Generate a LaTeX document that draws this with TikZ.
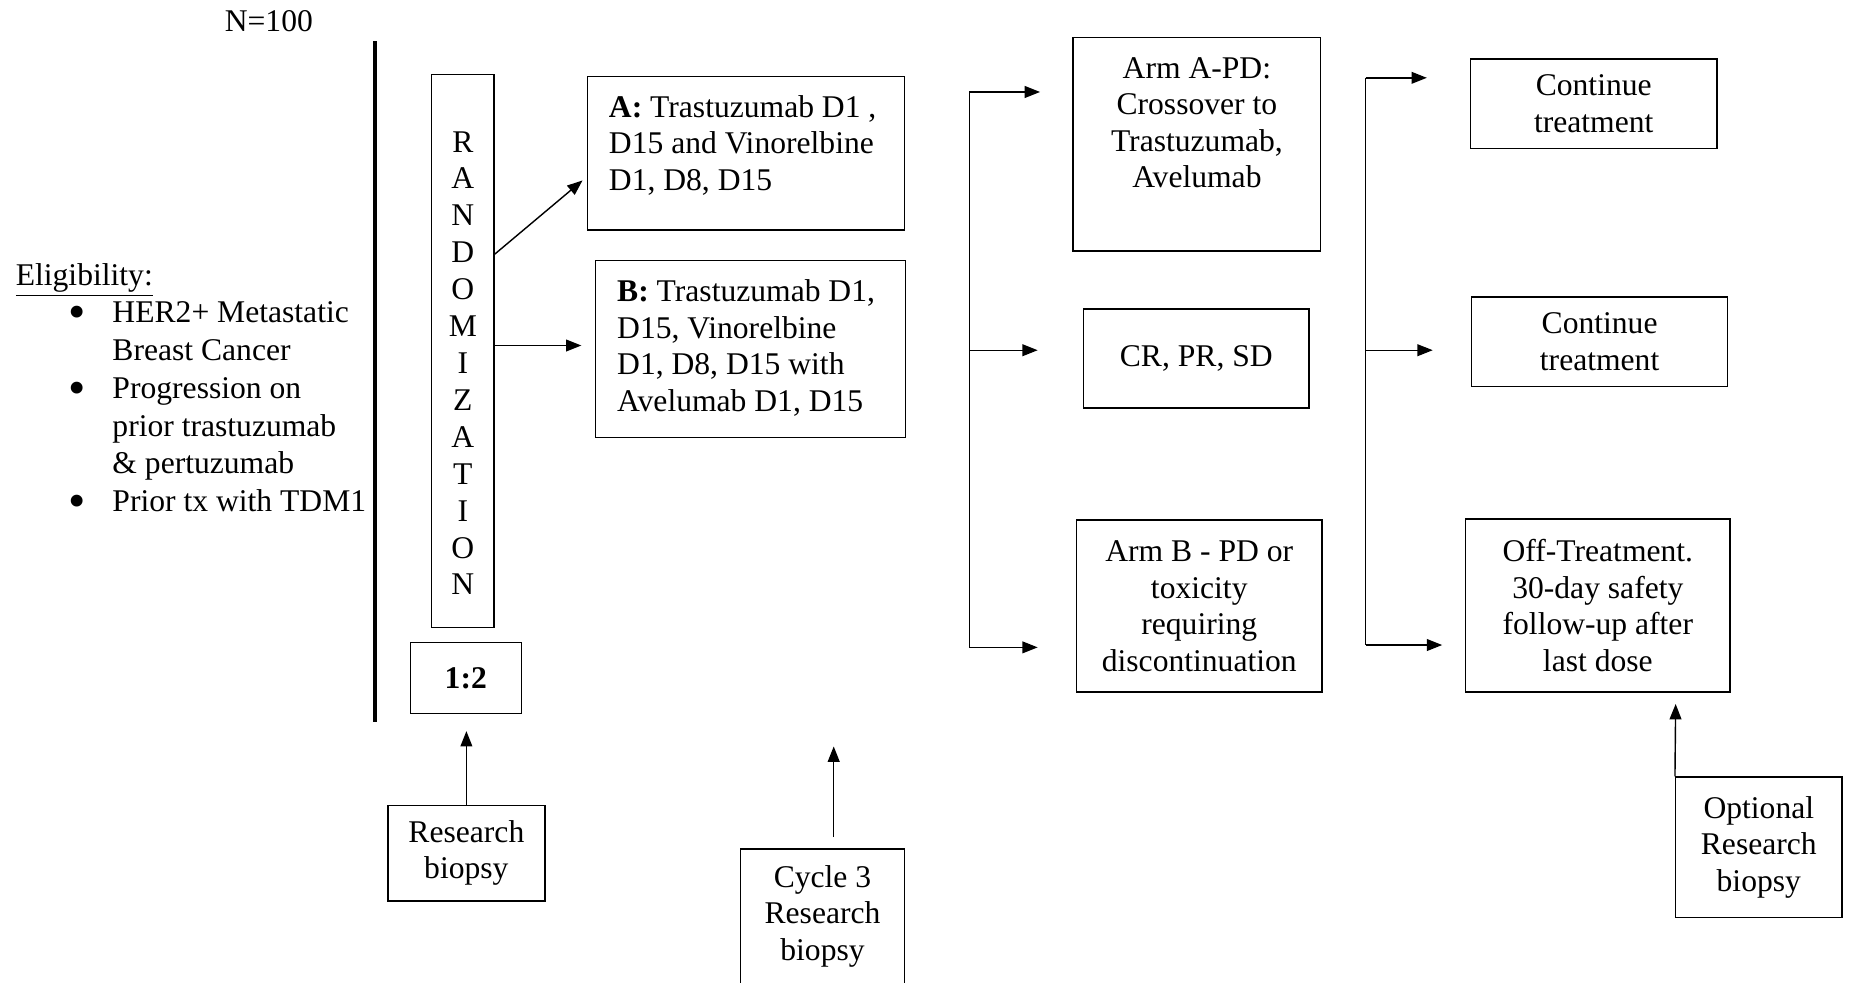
\documentclass[tikz,border=0pt]{standalone}
\usepackage{fontspec}
\setmainfont{Liberation Serif}
\usetikzlibrary{arrows.meta}
\newcommand{\bigbul}{\makebox[18.5pt][l]{\raisebox{-2.4pt}{\fontsize{21pt}{0pt}\selectfont\textbullet}}}
\begin{document}
\begin{tikzpicture}[x=0.5pt,y=-0.5pt,
  box/.style={draw, line width=0.6pt, inner sep=0pt, align=center,
    font=\fontsize{13.4pt}{15.5pt}\selectfont},
  txt/.style={inner sep=0pt, font=\fontsize{13.4pt}{15.5pt}\selectfont},
  arr/.style={-{Triangle[length=6.5pt,width=5pt]}, line width=0.6pt},
  ln/.style={line width=0.6pt},
  thick line/.style={line width=1.5pt}]
\useasboundingbox (0,0) rectangle (1568,833);
\clip (0,0) rectangle (1568,833);

% header and eligibility
\node[txt] (n100) at (228,18) {N=100};
\node[txt, anchor=west, align=left, font=\fontsize{13.4pt}{16pt}\selectfont] (elig) at (13,331) {%
\underline{Eligibility:}\\
\hspace*{22.5pt}\bigbul HER2+ Metastatic\\
\hspace*{41pt}Breast Cancer\\
\hspace*{22.5pt}\bigbul Progression on\\
\hspace*{41pt}prior trastuzumab\\
\hspace*{41pt}\& pertuzumab\\
\hspace*{22.5pt}\bigbul Prior tx with TDM1};

% thick divider
\coordinate (dtop) at (318,35);
\coordinate (dbot) at (318,612);
\draw[thick line] (dtop) -- (dbot);

% randomization
\node[box, minimum width=26.5pt, minimum height=234.5pt] (rand) at (392.5,297.5) {};
\node[txt, align=center, font=\fontsize{13.4pt}{15.65pt}\selectfont] (randt) at (392.5,308) {R\\A\\N\\D\\O\\M\\I\\Z\\A\\T\\I\\O\\N};
\node[box, minimum width=47pt, minimum height=30pt] (ratio) at (395,575) {\textbf{1:2}};

% arms
\node[box, minimum width=134.5pt, minimum height=65pt] (boxA) at (632.5,130) {};
\node[txt, anchor=west, align=left] (boxAt) at (516,123) {\textbf{A:} Trastuzumab D1 ,\\D15 and Vinorelbine\\D1, D8, D15};
\node[box, minimum width=131.5pt, minimum height=75pt] (boxB) at (636.5,296) {};
\node[txt, anchor=west, align=left] (boxBt) at (523,295) {\textbf{B:} Trastuzumab D1,\\D15, Vinorelbine\\D1, D8, D15 with\\Avelumab D1, D15};

\coordinate (ra1) at (419,216);
\coordinate (ra2) at (494,153);
\draw[arr] (ra1) -- (ra2);
\coordinate (rb1) at (419,293);
\coordinate (rb2) at (493,293);
\draw[arr] (rb1) -- (rb2);

% outcomes
\node[box, minimum width=105pt, minimum height=90.5pt] (armA) at (1015,122.5) {};
\node[txt, align=center] (armAt) at (1015,104) {Arm A-PD:\\Crossover to\\Trastuzumab,\\Avelumab};
\node[box, minimum width=95.5pt, minimum height=42pt] (crpr) at (1014.5,304) {CR, PR, SD};
\node[box, minimum width=104pt, minimum height=73pt] (armB) at (1017,514) {Arm B - PD or\\toxicity\\requiring\\discontinuation};

\coordinate (b1t) at (822,78);
\coordinate (b1m) at (822,297);
\coordinate (b1b) at (822,549);
\coordinate (e1t) at (882,78);
\coordinate (e1m) at (880,297);
\coordinate (e1b) at (880,549);
\draw[ln] (b1t) -- (b1b);
\draw[arr] (b1t) -- (e1t);
\draw[arr] (b1m) -- (e1m);
\draw[arr] (b1b) -- (e1b);

% follow-up
\node[box, minimum width=104.5pt, minimum height=38pt] (cont1) at (1351.5,88) {Continue\\treatment};
\node[box, minimum width=108.5pt, minimum height=38pt] (cont2) at (1356.5,290) {Continue\\treatment};
\node[box, minimum width=112pt, minimum height=73.5pt] (off) at (1355,513.5) {Off-Treatment.\\30-day safety\\follow-up after\\last dose};

\coordinate (b2t) at (1158,66);
\coordinate (b2m) at (1158,297);
\coordinate (b2b) at (1158,547);
\coordinate (e2t) at (1210,66);
\coordinate (e2m) at (1215,297);
\coordinate (e2b) at (1223,547);
\draw[ln] (b2t) -- (b2b);
\draw[arr] (b2t) -- (e2t);
\draw[arr] (b2m) -- (e2m);
\draw[arr] (b2b) -- (e2b);

% biopsies
\node[box, minimum width=66.5pt, minimum height=40.5pt] (res) at (395.5,723.5) {Research\\biopsy};
\coordinate (rest) at (395.5,620);
\draw[arr] (res.north) -- (rest);

\node[box, minimum width=69.5pt, minimum height=65pt] (cyc) at (697.5,785) {};
\node[txt, align=center] (cyct) at (697.5,777) {Cycle 3\\Research\\biopsy};
\coordinate (cycs) at (707,710);
\coordinate (cyce) at (707,633);
\draw[arr] (cycs) -- (cyce);

\node[box, minimum width=70.5pt, minimum height=59.5pt] (opt) at (1491.5,718.5) {Optional\\Research\\biopsy};
\coordinate (optt) at (1421,597);
\draw[arr] (opt.north west) -- (optt);
\end{tikzpicture}
\end{document}
